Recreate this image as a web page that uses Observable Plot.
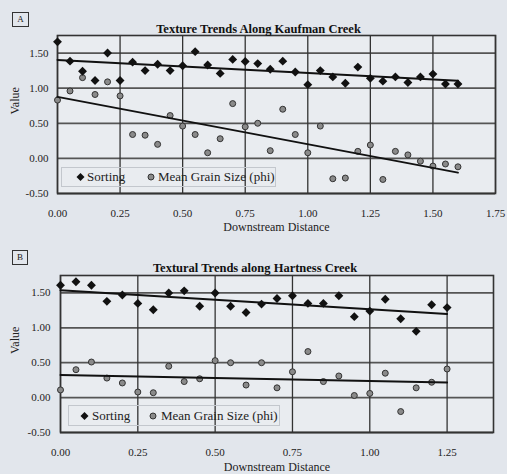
<!DOCTYPE html>
<html><head><meta charset="utf-8">
<script src="https://cdn.jsdelivr.net/npm/d3@7"></script>
<script src="https://cdn.jsdelivr.net/npm/@observablehq/plot@0.6"></script>
<style>
body{margin:0;background:#e2e6ec;font-family:"Liberation Serif",serif;}
#wrap{position:relative;width:507px;height:474px;overflow:hidden;}
.panel{position:absolute;left:0;width:507px;height:237px;}
.tag{position:absolute;box-sizing:border-box;border:1.5px solid #333;font-size:9px;line-height:12px;text-align:center;color:#222;}
.legend{position:absolute;box-sizing:border-box;border:1px solid #c3c7cd;font-size:13px;color:#222;}
.legend span{position:absolute;top:50%;transform:translateY(-50%);white-space:nowrap;}
.legend svg{position:absolute;top:50%;transform:translateY(-50%);}
</style>
</head><body>
<div id="wrap"></div>
<script>
// ---- Data ----
const titleA = "Texture Trends Along Kaufman Creek";
const titleB = "Textural Trends along Hartness Creek";
const seriesNames = ["Sorting", "Mean Grain Size (phi)"];
const xLabel = "Downstream Distance";
const yLabel = "Value";

const distA = [0,0.05,0.10,0.15,0.20,0.25,0.30,0.35,0.40,0.45,0.50,0.55,0.60,0.65,0.70,0.75,0.80,0.85,0.90,0.95,1.00,1.05,1.10,1.15,1.20,1.25,1.30,1.35,1.40,1.45,1.50,1.55,1.60];
const sortingA = [1.66,1.385,1.24,1.11,1.50,1.11,1.37,1.25,1.34,1.25,1.32,1.52,1.33,1.21,1.41,1.38,1.35,1.27,1.385,1.23,1.05,1.25,1.16,1.07,1.30,1.14,1.10,1.16,1.08,1.16,1.20,1.06,1.06];
const grainA = [0.83,0.96,1.15,0.91,1.09,0.89,0.34,0.33,0.20,0.61,0.46,0.34,0.08,0.28,0.78,0.45,0.50,0.11,0.70,0.34,0.08,0.46,-0.29,-0.28,0.10,0.19,-0.30,0.10,0.05,-0.04,-0.11,-0.08,-0.12];

const distB = [0,0.05,0.10,0.15,0.20,0.25,0.30,0.35,0.40,0.45,0.50,0.55,0.60,0.65,0.70,0.75,0.80,0.85,0.90,0.95,1.00,1.05,1.10,1.15,1.20,1.25];
const sortingB = [1.61,1.66,1.61,1.38,1.47,1.35,1.26,1.50,1.53,1.31,1.50,1.31,1.22,1.34,1.42,1.46,1.35,1.35,1.46,1.16,1.24,1.41,1.13,0.95,1.33,1.29];
const grainB = [0.11,0.40,0.51,0.28,0.21,0.08,0.07,0.45,0.23,0.27,0.53,0.50,0.18,0.50,0.14,0.37,0.66,0.23,0.31,0.03,0.06,0.35,-0.20,0.14,0.22,0.41];

const xTicksA = [0,0.25,0.50,0.75,1.00,1.25,1.50,1.75];
const xTicksB = [0,0.25,0.50,0.75,1.00,1.25];
const yTicks = [-0.50,0,0.50,1.00,1.50];
const yDomain = [-0.5,1.75];

// ---- Drawing ----
const plotBg = "#e9ecf0";
const fmt = d => d.toFixed(2);

function makePanel(cfg){
  const rows = cfg.dist.map((d,i)=>({d, s: cfg.sorting[i], g: cfg.grain[i]}));
  return Plot.plot({
    width: 507, height: 237,
    marginLeft: cfg.ml, marginRight: cfg.mr, marginTop: cfg.mt, marginBottom: cfg.mb,
    style: {background:"transparent", fontFamily:'"Liberation Serif", serif', color:"#222"},
    x: {domain: cfg.xDomain},
    y: {domain: yDomain},
    marks: [
      Plot.frame({fill: plotBg}),
      Plot.gridY(yTicks, {stroke:"#555", strokeOpacity:1, strokeWidth:1.8}),
      Plot.gridX(cfg.xTicks, {stroke:"#333", strokeOpacity:1, strokeWidth:1.3}),
      Plot.frame({stroke:"#333", strokeWidth:1.6}),
      Plot.axisY(yTicks, {tickSize:0, tickPadding:cfg.ytp, tickFormat: fmt, fontSize:11, label:null}),
      Plot.axisX(cfg.xTicks, {tickSize:0, tickPadding:16, tickFormat: fmt, fontSize:11, label:null}),
      Plot.dot(rows, {x:"d", y:"g", r:3, fill:"#8a8a8a", stroke:"#333", strokeWidth:1}),
      Plot.dot(rows, {x:"d", y:"s", symbol:"diamond2", r:4, fill:"#111", stroke:"none"}),
      Plot.linearRegressionY(rows, {x:"d", y:"s", stroke:"#111", strokeWidth:2, ci:0}),
      Plot.linearRegressionY(rows, {x:"d", y:"g", stroke:"#111", strokeWidth:2, ci:0}),
      Plot.text([cfg.title], {frameAnchor:"top", dx:cfg.tdx, dy:cfg.tdy, fontWeight:"bold", fontSize:12.5, fill:"#111"}),
      Plot.text([xLabel], {frameAnchor:"bottom", dy:cfg.xldy, fontSize:12, fill:"#222"}),
      Plot.text([yLabel], {frameAnchor:"left", dx:cfg.yldx, rotate:-90, fontSize:12, fill:"#222"})
    ]
  });
}

const wrap = document.getElementById("wrap");

function addPanel(top, cfg, tag, leg){
  const div = document.createElement("div");
  div.className = "panel";
  div.style.top = top + "px";
  div.appendChild(makePanel(cfg));
  const t = document.createElement("div");
  t.className = "tag";
  Object.assign(t.style, {left: tag.x+"px", top: tag.y+"px", width: tag.w+"px", height: tag.h+"px"});
  t.textContent = tag.text;
  div.appendChild(t);
  const l = document.createElement("div");
  l.className = "legend";
  Object.assign(l.style, {left: leg.x+"px", top: leg.y+"px", width: leg.w+"px", height: leg.h+"px"});
  l.innerHTML =
    `<svg width="9" height="9" style="left:${leg.s1-4.5}px"><path d="M4.5,0.5L8.5,4.5L4.5,8.5L0.5,4.5Z" fill="#111"/></svg>` +
    `<span style="left:${leg.t1}px">${seriesNames[0]}</span>` +
    `<svg width="8" height="8" style="left:${leg.s2-4}px"><circle cx="4" cy="4" r="3" fill="#8a8a8a" stroke="#333" stroke-width="1"/></svg>` +
    `<span style="left:${leg.t2}px">${seriesNames[1]}</span>`;
  div.appendChild(l);
  wrap.appendChild(div);
}

addPanel(0, {
  dist: distA, sorting: sortingA, grain: grainA, xDomain:[0,1.75], xTicks: xTicksA,
  ml:57, mr:12, mt:35, mb:44, ytp:9, title:titleA, tdx:-18, tdy:-11, xldy:37, yldx:-42
}, {text:"A", x:12, y:12, w:17, h:15}, {x:61, y:167, w:215, h:20, s1:18, t1:25, s2:89, t2:96});

addPanel(237, {
  dist: distB, sorting: sortingB, grain: grainB, xDomain:[0,1.4], xTicks: xTicksB,
  ml:60, mr:14, mt:38, mb:42, ytp:10, title:titleB, tdx:-22, tdy:-12, xldy:38, yldx:-45
}, {text:"B", x:12, y:13, w:16, h:15}, {x:68, y:168, w:212, h:21, s1:15, t1:23, s2:84, t2:92});
</script>
</body></html>
